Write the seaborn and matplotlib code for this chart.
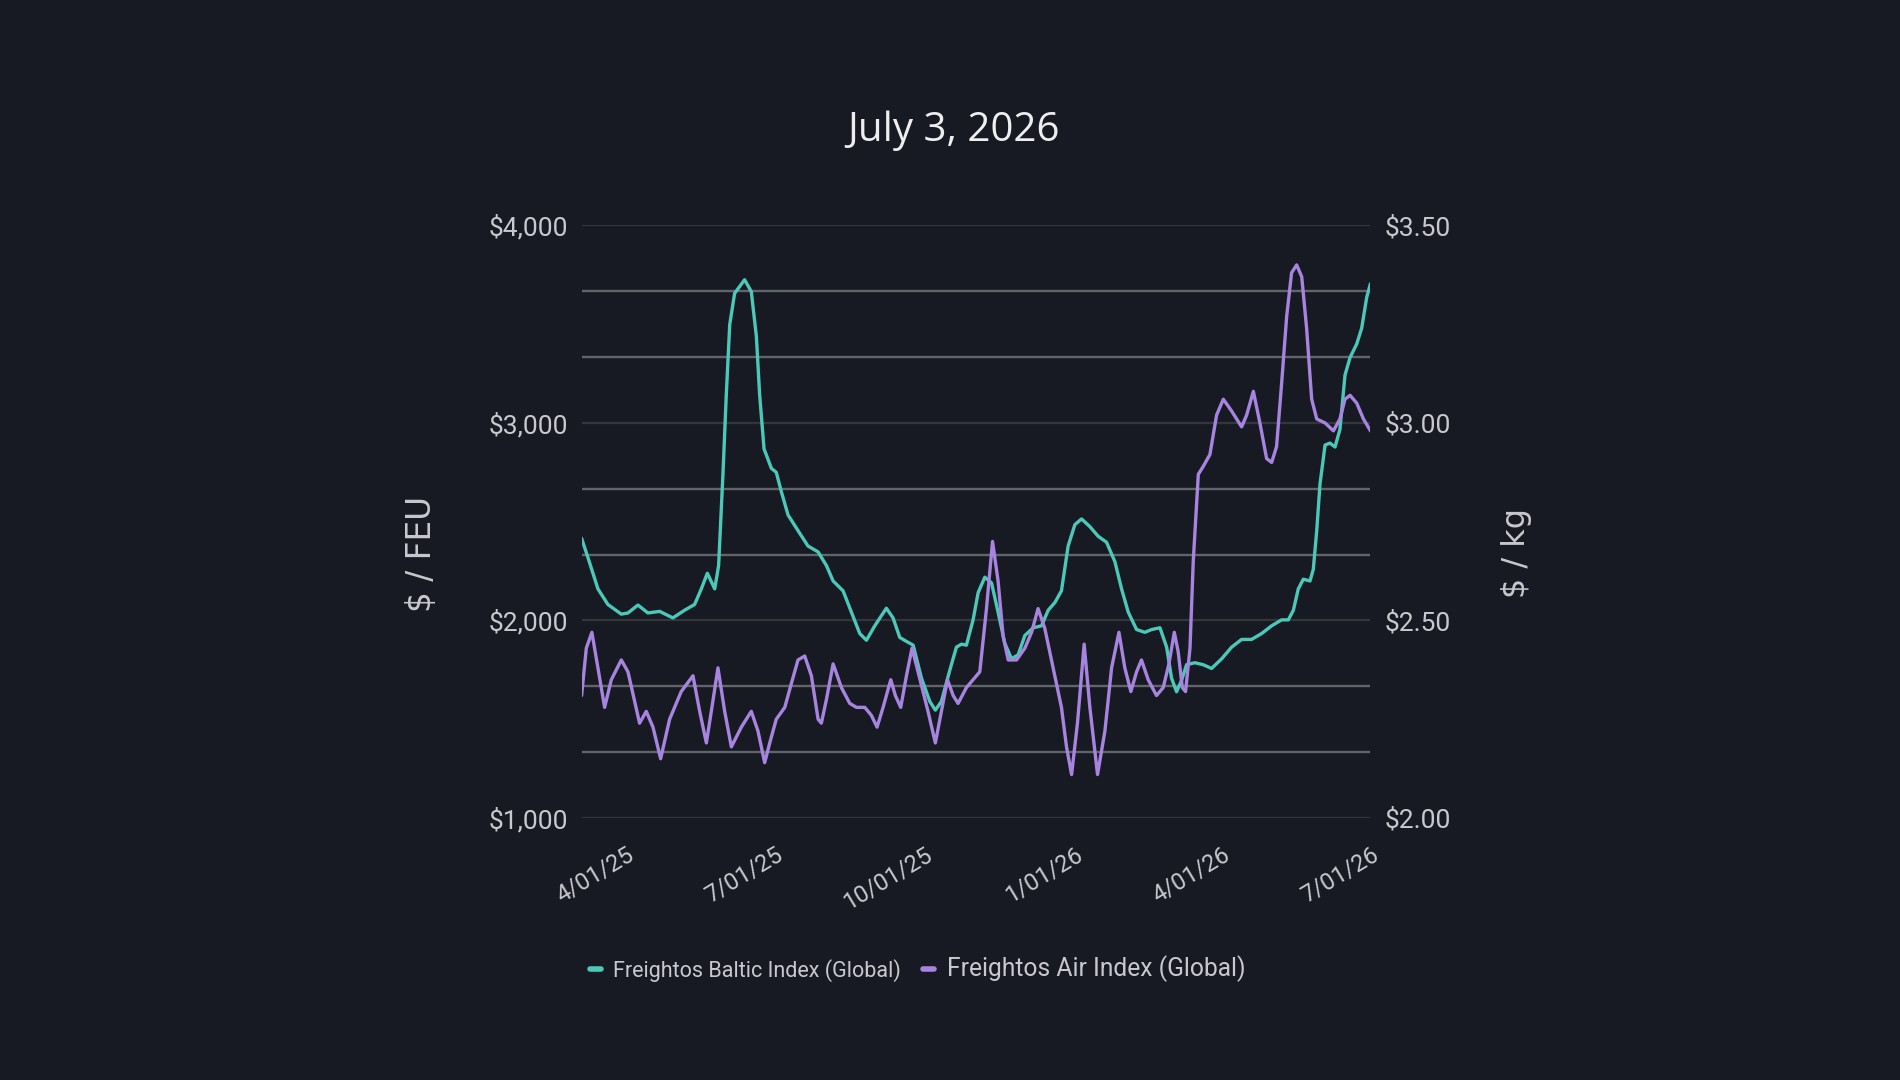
import pandas as pd
import seaborn as sns
import matplotlib.pyplot as plt
from matplotlib.lines import Line2D
from matplotlib.ticker import FixedLocator, FuncFormatter
from matplotlib.transforms import ScaledTranslation

# series, x = days since the first point (2025-03-05)
START = pd.Timestamp('2025-03-05')
END = pd.Timestamp('2026-07-01')

fbx_day = [0, 3.9, 10.0, 16.1, 24.3, 28.4, 34.5, 40.6, 47.8, 55.9, 63.1, 69.2, 73.3, 77.0,
           81.5, 83.9, 86.6, 88.6, 90.7, 93.7, 99.8, 103.9, 107.0, 109.0, 111.7, 116.2,
           119.2, 122.3, 126.4, 132.5, 138.6, 144.8, 149.9, 154.0, 160.1, 165.2, 170.3,
           174.4, 179.5, 186.6, 190.7, 194.8, 198.9, 203.0, 208.1, 213.2, 216.6, 220.3,
           225.4, 229.5, 232.6, 235.6, 239.7, 242.8, 246.9, 251.0, 255.0, 259.1, 263.2,
           267.3, 271.4, 276.5, 281.6, 285.7, 289.8, 293.8, 297.9, 302.0, 306.1, 311.2,
           316.3, 321.4, 326.5, 330.6, 334.7, 339.8, 344.9, 349.0, 354.1, 358.2, 361.2,
           364.3, 367.4, 370.4, 375.5, 380.6, 385.7, 391.9, 398.0, 404.1, 410.2, 416.4,
           422.5, 428.6, 432.7, 435.8, 438.8, 441.9, 446.0, 448.0, 450.1, 452.1, 455.2,
           458.2, 461.3, 464.3, 467.4, 470.5, 474.6, 477.6, 480.7, 483.0]
fbx_usd = [2416, 2318, 2160, 2081, 2032, 2038, 2078, 2038, 2046, 2013, 2052, 2081, 2160, 2239,
           2160, 2278, 2750, 3144, 3498, 3656, 3725, 3665, 3439, 3144, 2869, 2770,
           2750, 2652, 2534, 2455, 2377, 2347, 2278, 2200, 2150, 2042, 1934,
           1900, 1973, 2062, 2013, 1914, 1894, 1875, 1708, 1590, 1546, 1590,
           1747, 1865, 1880, 1875, 2003, 2141, 2219, 2190, 2042, 1885, 1806,
           1826, 1924, 1963, 1973, 2052, 2091, 2150, 2377, 2485, 2514, 2475,
           2426, 2396, 2298, 2160, 2042, 1954, 1940, 1954, 1963, 1865, 1708,
           1639, 1698, 1776, 1786, 1776, 1757, 1806, 1865, 1904, 1904, 1934,
           1973, 2003, 2003, 2052, 2160, 2209, 2200, 2259, 2455, 2691, 2888,
           2898, 2878, 2967, 3242, 3331, 3400, 3479, 3636, 3705]

fax_day = [0, 2.9, 6.3, 10.0, 14.1, 18.2, 24.3, 28.4, 35.5, 39.6, 43.7, 48.4, 53.9, 61.0,
           68.2, 72.3, 76.4, 79.8, 83.5, 87.6, 91.7, 97.8, 103.9, 108.0, 112.1, 115.2,
           119.2, 124.4, 128.4, 132.5, 136.6, 140.7, 144.8, 146.8, 149.9, 154.0, 159.1,
           164.2, 168.3, 173.4, 177.4, 180.9, 184.6, 189.3, 192.1, 195.4, 198.9, 202.3,
           206.0, 212.1, 216.6, 220.3, 224.0, 227.5, 230.5, 235.6, 239.7, 243.8, 247.9,
           251.6, 255.0, 258.1, 261.2, 266.3, 271.4, 275.5, 279.5, 283.6, 288.7, 293.8,
           296.9, 300.0, 303.6, 307.7, 311.2, 315.9, 320.4, 324.5, 329.0, 332.6, 336.3,
           339.8, 342.8, 346.9, 352.0, 356.1, 359.6, 362.9, 365.3, 367.8, 369.8, 372.5,
           374.5, 377.6, 380.6, 384.7, 388.8, 392.9, 398.0, 404.1, 407.2, 411.3, 415.3,
           419.4, 422.5, 425.5, 428.6, 431.7, 434.7, 437.8, 440.9, 443.9, 447.0, 450.1,
           455.2, 460.3, 464.3, 467.4, 470.5, 474.6, 478.7, 483.0]
fax_usd = [2.31, 2.43, 2.47, 2.38, 2.28, 2.35, 2.40, 2.37, 2.24, 2.27, 2.23, 2.15, 2.25, 2.32,
           2.36, 2.27, 2.19, 2.28, 2.38, 2.27, 2.18, 2.23, 2.27, 2.22, 2.14, 2.19,
           2.25, 2.28, 2.34, 2.40, 2.41, 2.36, 2.25, 2.24, 2.30, 2.39, 2.33,
           2.29, 2.28, 2.28, 2.26, 2.23, 2.28, 2.35, 2.31, 2.28, 2.36, 2.43,
           2.37, 2.27, 2.19, 2.27, 2.35, 2.31, 2.29, 2.33, 2.35, 2.37, 2.53,
           2.70, 2.60, 2.46, 2.40, 2.40, 2.43, 2.47, 2.53, 2.48, 2.38, 2.28,
           2.18, 2.11, 2.24, 2.44, 2.28, 2.11, 2.22, 2.38, 2.47, 2.38, 2.32,
           2.37, 2.40, 2.35, 2.31, 2.33, 2.39, 2.47, 2.42, 2.33, 2.32, 2.43,
           2.65, 2.87, 2.89, 2.92, 3.02, 3.06, 3.03, 2.99, 3.02, 3.08, 3.00,
           2.91, 2.90, 2.94, 3.10, 3.27, 3.38, 3.40, 3.37, 3.24, 3.06, 3.01,
           3.00, 2.98, 3.01, 3.06, 3.07, 3.05, 3.01, 2.98]

x_ticks = ['2025-04-01', '2025-07-01', '2025-10-01', '2026-01-01', '2026-04-01', '2026-07-01']
left_ticks = [1000, 2000, 3000, 4000]
right_ticks = [2.0, 2.5, 3.0, 3.5]
series_names = ['Freightos Baltic Index (Global)', 'Freightos Air Index (Global)']
title = 'July 3, 2026'

BG = '#181a23'
TEAL = '#4cc8b8'
PURPLE = '#a784df'
TXT = '#c8c9ce'
GRID_DIM = '#34363e'
GRID_BRIGHT = '#62646b'

sns.set_style('dark', rc={'axes.facecolor': BG, 'figure.facecolor': BG})
plt.rcParams['font.family'] = ['Roboto', 'DejaVu Sans']

fig = plt.figure(figsize=(19, 10.8), dpi=100, facecolor=BG)
ax = fig.add_axes([0.3061, 0.2426, 0.4152, 0.5487])
ax.set_facecolor(BG)

fbx_dates = START + pd.to_timedelta(fbx_day, unit='D')
fax_dates = START + pd.to_timedelta(fax_day, unit='D')

line_kw = dict(linewidth=2.4, solid_joinstyle='round', solid_capstyle='round')
sns.lineplot(x=fbx_dates, y=fbx_usd, ax=ax, color=TEAL, **line_kw)

ax2 = ax.twinx()
sns.lineplot(x=fax_dates, y=fax_usd, ax=ax2, color=PURPLE, **line_kw)

#
# left axis + grid (dim lines at the labelled ticks, brighter ones between)

ax.set_xlim(START, END)
ax.set_ylim(left_ticks[0], left_ticks[-1])
ax.yaxis.set_major_locator(FixedLocator(left_ticks))
step = (left_ticks[1] - left_ticks[0]) / 3
ax.yaxis.set_minor_locator(FixedLocator([v + step * k for v in left_ticks[:-1] for k in (1, 2)]))
ax.yaxis.set_major_formatter(FuncFormatter(lambda v, pos: f'${v:,.0f}'))
ax.grid(False)
ax.grid(True, which='major', axis='y', color=GRID_DIM, linewidth=1.6)
ax.grid(True, which='minor', axis='y', color=GRID_BRIGHT, linewidth=1.7)
ax.tick_params(axis='y', which='both', length=0, pad=10, labelsize=19, labelcolor=TXT)
ax.set(xlabel=None, ylabel=None)

#
# right axis

ax2.set_ylim(right_ticks[0], right_ticks[-1])
ax2.yaxis.set_major_locator(FixedLocator(right_ticks))
ax2.yaxis.set_major_formatter(FuncFormatter(lambda v, pos: f'${v:.2f}'))
ax2.grid(False)
ax2.tick_params(axis='y', length=0, pad=10, labelsize=19, labelcolor=TXT)
ax2.set(xlabel=None, ylabel=None)

for a in (ax, ax2):
    for s in a.spines.values():
        s.set_visible(False)

#
# date ticks

tick_dates = pd.to_datetime(x_ticks)
ax.set_xticks(tick_dates)
ax.set_xticklabels([f'{d.month}/{d:%d/%y}' for d in tick_dates], rotation=31, ha='right')
ax.tick_params(axis='x', length=0, pad=18, labelsize=17, labelcolor=TXT)
shift = ScaledTranslation(12 / 100, 0, fig.dpi_scale_trans)
for lbl in ax.get_xticklabels():
    lbl.set_transform(lbl.get_transform() + shift)

#
# texts

fig.text(0.5019, 0.879, title, ha='center', va='center', fontsize=29,
         color='#eeeeee', family=['Open Sans', 'DejaVu Sans'])
fig.text(0.2216, 0.487, '$ / FEU', rotation=90, ha='center', va='center', fontsize=23.5,
         color=TXT, family=['DejaVu Sans'])
fig.text(0.7984, 0.488, '$ / kg', rotation=90, ha='center', va='center', fontsize=23,
         color=TXT, family=['DejaVu Sans'])

handles = [Line2D([0], [0], color=c, linewidth=4.0, solid_capstyle='round') for c in (TEAL, PURPLE)]
leg = fig.legend(handles, series_names, loc='center', bbox_to_anchor=(0.4829, 0.1028),
                 ncol=2, frameon=False, fontsize=15.5, handlelength=0.5, handletextpad=0.6,
                 columnspacing=1.0, labelcolor=TXT)
leg.get_texts()[1].set_fontsize(17.7)

fig.savefig('out.png', dpi=100, facecolor=BG)
